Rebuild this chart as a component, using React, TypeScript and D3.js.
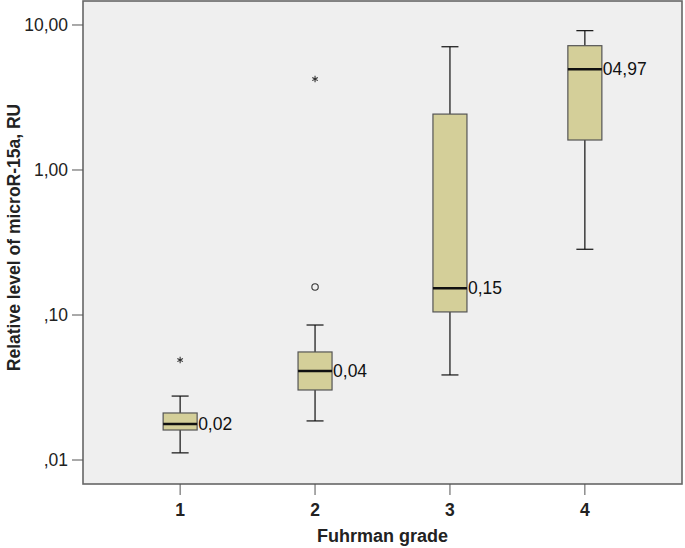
import React from "react";
import * as d3 from "d3";

const grades = [1, 2, 3, 4];
const whiskerLow = [0.0112, 0.0186, 0.0386, 0.284];
const q1 = [0.0161, 0.0304, 0.105, 1.61];
const medians = [0.0177, 0.0411, 0.153, 4.95];
const q3 = [0.0211, 0.0556, 2.43, 7.2];
const whiskerHigh = [0.0276, 0.0853, 7.08, 9.14];
const medianLabels = ["0,02", "0,04", "0,15", "04,97"];

const outlierGrades = [2];
const outlierValues = [0.156];
const extremeGrades = [1, 2];
const extremeValues = [0.0489, 4.24];

const yTicks = [0.01, 0.1, 1, 10];
const yTickLabels = [",01", ",10", "1,00", "10,00"];

const W = 685;
const H = 548;
const left = 83;
const right = 682;
const top = 1;
const bottom = 484;

export default function App() {
  const x = d3.scaleLinear().domain([0.28, 4.72]).range([left, right]);
  const y = d3
    .scaleLog()
    .domain([Math.pow(10, -2.1655), Math.pow(10, 1.1655)])
    .range([bottom, top]);
  const boxW = 34;
  const capW = 17;
  const font = "Liberation Sans, Arial, sans-serif";
  const star = d3.symbol().type(d3.symbolAsterisk).size(28)();

  return (
    <svg
      width={W}
      height={H}
      style={{ position: "absolute", left: 0, top: 0, background: "#fff" }}
      fontFamily={font}
    >
      <rect
        x={left}
        y={top}
        width={right - left}
        height={bottom - top}
        fill="#efefef"
        stroke="#666"
        strokeWidth={1.6}
      />
      {yTicks.map((t, i) => (
        <g key={"yt" + i}>
          <line x1={left - 11} x2={left} y1={y(t)} y2={y(t)} stroke="#555" strokeWidth={1} />
          <text
            x={left - 15}
            y={y(t)}
            dy="0.35em"
            textAnchor="end"
            fontSize={17.5}
            fill="#222"
          >
            {yTickLabels[i]}
          </text>
        </g>
      ))}
      {grades.map((g, i) => (
        <g key={"xt" + i}>
          <line x1={x(g)} x2={x(g)} y1={bottom} y2={bottom + 11} stroke="#555" strokeWidth={1} />
          <text
            x={x(g)}
            y={515.5}
            textAnchor="middle"
            fontSize={17.5}
            fontWeight="bold"
            fill="#222"
          >
            {g}
          </text>
        </g>
      ))}
      {grades.map((g, i) => {
        const cx = x(g);
        return (
          <g key={"b" + i}>
            <line x1={cx} x2={cx} y1={y(whiskerHigh[i])} y2={y(q3[i])} stroke="#111" strokeWidth={1.2} />
            <line x1={cx} x2={cx} y1={y(q1[i])} y2={y(whiskerLow[i])} stroke="#111" strokeWidth={1.2} />
            <line
              x1={cx - capW / 2}
              x2={cx + capW / 2}
              y1={y(whiskerHigh[i])}
              y2={y(whiskerHigh[i])}
              stroke="#111"
              strokeWidth={1.2}
            />
            <line
              x1={cx - capW / 2}
              x2={cx + capW / 2}
              y1={y(whiskerLow[i])}
              y2={y(whiskerLow[i])}
              stroke="#111"
              strokeWidth={1.2}
            />
            <rect
              x={cx - boxW / 2}
              y={y(q3[i])}
              width={boxW}
              height={y(q1[i]) - y(q3[i])}
              fill="#d4cf99"
              stroke="#555"
              strokeWidth={1.2}
            />
            <line
              x1={cx - boxW / 2}
              x2={cx + boxW / 2}
              y1={y(medians[i])}
              y2={y(medians[i])}
              stroke="#111"
              strokeWidth={2.5}
            />
            <text
              x={cx + boxW / 2 + 1}
              y={y(medians[i])}
              dy="0.35em"
              fontSize={17.5}
              fill="#111"
            >
              {medianLabels[i]}
            </text>
          </g>
        );
      })}
      {outlierGrades.map((g, i) => (
        <circle
          key={"o" + i}
          cx={x(g)}
          cy={y(outlierValues[i])}
          r={3.2}
          fill="none"
          stroke="#333"
          strokeWidth={1.1}
        />
      ))}
      {extremeGrades.map((g, i) => (
        <path
          key={"e" + i}
          d={star as string}
          transform={`translate(${x(g)},${y(extremeValues[i])})`}
          fill="none"
          stroke="#333"
          strokeWidth={1.1}
        />
      ))}
      <text
        x={(left + right) / 2}
        y={542}
        textAnchor="middle"
        fontSize={18}
        fontWeight="bold"
        fill="#222"
      >
        Fuhrman grade
      </text>
      <text
        transform={`translate(20,${(top + bottom) / 2 - 5}) rotate(-90)`}
        textAnchor="middle"
        fontSize={17.5}
        fontWeight="bold"
        fill="#222"
      >
        Relative level of microR-15a, RU
      </text>
    </svg>
  );
}
